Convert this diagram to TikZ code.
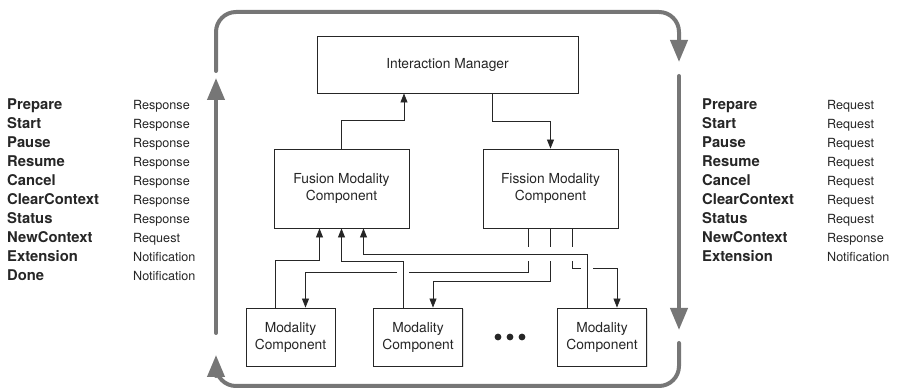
\documentclass[tikz,border=0pt]{standalone}
\usepackage{fontspec}
\setmainfont{TeX Gyre Heros}
\usetikzlibrary{positioning, calc, arrows.meta, shadows}

\definecolor{loopgray}{HTML}{767676}
\definecolor{inkdark}{HTML}{262626}

\tikzset{
  box/.style={draw=inkdark, line width=0.9pt, fill=white, inner sep=0pt, align=center,
    text=inkdark, font=\fontsize{13.8}{17}\selectfont,
    drop shadow={opacity=0.25, shadow xshift=1.2pt, shadow yshift=-1.2pt}},
  mcbox/.style={box, minimum width=89pt, minimum height=58pt},
  wire/.style={draw=inkdark, line width=0.8pt},
  tip/.style={-{Triangle[length=9pt,width=7pt]}},
  bigloop/.style={draw=loopgray, line width=4pt, rounded corners=20pt, line cap=round},
  bigtip/.style={-{Triangle[length=22pt,width=17pt]}},
  cmd/.style={anchor=base west, inner sep=0pt, text=inkdark, font=\bfseries\fontsize{14.8}{17}\selectfont},
  kind/.style={anchor=base west, inner sep=0pt, text=inkdark, font=\fontsize{12.6}{15}\selectfont},
}

\begin{document}
\begin{tikzpicture}[x=1pt, y=-1pt]
    \useasboundingbox (0,0) rectangle (898,390);

    % --- Outer Loop ---
    \draw[bigloop, bigtip] (216,71) -- (216,12) -- (679,12) -- (679,62);
    \draw[bigloop, bigtip] (679,76) -- (679,330);
    \draw[bigloop, bigtip] (679,343) -- (679,386) -- (216,386) -- (216,355);
    \draw[bigloop, bigtip] (216,333) -- (216,78);

    % --- Components ---
    \node[box, minimum width=261pt, minimum height=57pt] (im) at (447.5,64.5) {Interaction Manager};
    \node[box, minimum width=135pt, minimum height=79pt] (fusion) at (341.5,188.5) {Fusion Modality\\Component};
    \node[box, minimum width=135pt, minimum height=79pt] (fission) at (550.5,188.5) {Fission Modality\\Component};
    \node[mcbox] (mc1) at (290.5,337) {Modality\\Component};
    \node[mcbox] (mc2) at (418,337) {Modality\\Component};
    \node[mcbox] (mc3) at (602,337) {Modality\\Component};
    \coordinate (dots) at (510,337);
    \foreach \dx in {-12,0,12}
        \fill[inkdark] ($(dots)+(\dx,0)$) circle (3.4pt);

    % --- Ports ---
    \coordinate (fu1) at ($(fusion.south)+(-22,0)$);
    \coordinate (fu2) at (fusion.south);
    \coordinate (fu3) at ($(fusion.south)+(22,0)$);
    \coordinate (fi1) at ($(fission.south)+(-22,0)$);
    \coordinate (fi2) at (fission.south);
    \coordinate (fi3) at ($(fission.south)+(22,0)$);
    \foreach \m in {mc1,mc2,mc3} {
        \coordinate (\m out) at ($(\m.north)+(-15,0)$);
        \coordinate (\m in) at ($(\m.north)+(15,0)$);
    }
    \coordinate (row1) at (0,272);
    \coordinate (row2) at (0,281);
    \coordinate (row3) at (0,268);

    % --- Manager wires ---
    \draw[wire, tip] (fusion.north) -- ++(0,-28) -| ($(im.south)+(-43.5,0)$);
    \draw[wire, tip] ($(im.south)+(44.5,0)$) -- ++(0,28) -| (fission.north);

    % --- Modality components to Fusion ---
    \draw[wire, tip] (mc1out) |- ($(fu1)+(0,32)$) -- (fu1);
    \draw[wire, tip] (mc2out) |- ($(fu2)+(0,33)$) -- (fu2);
    \draw[wire, tip] (mc3out) |- ($(fu3)+(0,26)$) -- (fu3);

    % --- Fission to modality components (broken at crossings) ---
    \draw[wire] (fi1) -- ++(0,19);
    \draw[wire] ($(fi1)+(0,33)$) -- (fi1 |- row1) -- ($(mc2out |- row1)+(6,0)$);
    \draw[wire, tip] ($(mc2out |- row1)+(-6,0)$) -| (mc1in);

    \draw[wire] (fi2) -- ++(0,19);
    \draw[wire, tip] ($(fi2)+(0,33)$) -- (fi2 |- row2) -| (mc2in);

    \draw[wire] (fi3) -- ++(0,19);
    \draw[wire] ($(fi3)+(0,33)$) -- (fi3 |- row3) -- ($(mc3out |- row3)+(-6,0)$);
    \draw[wire, tip] ($(mc3out |- row3)+(6,0)$) -| (mc3in);

    % --- Left list: events sent up ---
    \foreach \cmd/\kind [count=\i from 0] in {Prepare/Response, Start/Response, Pause/Response,
        Resume/Response, Cancel/Response, ClearContext/Response, Status/Response,
        NewContext/Request, Extension/Notification, Done/Notification} {
        \node[cmd] (lcmd\i) at (7,110+18.95*\i) {\cmd};
        \node[kind] (lkind\i) at (133,110+18.95*\i) {\kind};
    }

    % --- Right list: events sent down ---
    \foreach \cmd/\kind [count=\i from 0] in {Prepare/Request, Start/Request, Pause/Request,
        Resume/Request, Cancel/Request, ClearContext/Request, Status/Request,
        NewContext/Response, Extension/Notification} {
        \node[cmd] (rcmd\i) at (702,110+18.95*\i) {\cmd};
        \node[kind] (rkind\i) at (827,110+18.95*\i) {\kind};
    }

\end{tikzpicture}
\end{document}
